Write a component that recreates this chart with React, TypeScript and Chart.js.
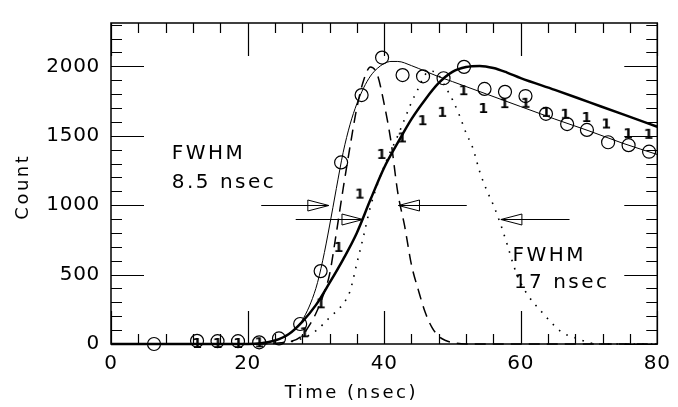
import { useEffect, useRef } from 'react';
import { Chart, registerables } from 'chart.js';
Chart.register(...registerables);

// Measured data (open circles)
const circleX = [6.3, 12.6, 15.6, 18.6, 21.7, 24.6, 27.7, 30.7, 33.7, 36.7, 39.7, 42.7, 45.7, 48.7, 51.7, 54.7, 57.7, 60.7, 63.7, 66.8, 69.7, 72.8, 75.8, 78.8];
const circleY = [0, 23, 20, 20, 12, 40, 144, 525, 1308, 1793, 2063, 1937, 1928, 1914, 1996, 1837, 1816, 1786, 1658, 1584, 1542, 1453, 1432, 1385];

// Measured data ("1" markers)
const onesX = [12.6, 15.6, 18.6, 21.7, 28.3, 30.7, 33.3, 36.4, 39.6, 42.6, 45.6, 48.5, 51.6, 54.5, 57.6, 60.7, 63.7, 66.5, 69.6, 72.5, 75.7, 78.7];
const onesY = [0, 0, 0, 5, 77, 286, 692, 1076, 1362, 1481, 1605, 1665, 1821, 1693, 1728, 1730, 1665, 1651, 1628, 1581, 1511, 1507];

// Thin solid fit
const thinX = [0, 10, 20, 22, 24, 26, 28, 30, 31, 32, 33, 34, 35, 36, 37, 38, 39, 40, 41, 42, 44, 46, 48, 50, 55, 60, 65, 70, 75, 80];
const thinY = [0, 0, 0, 5, 25, 70, 170, 400, 600, 850, 1120, 1380, 1580, 1730, 1845, 1930, 1985, 2020, 2035, 2035, 2005, 1965, 1925, 1890, 1800, 1710, 1620, 1535, 1445, 1365];

// Thick solid fit
const thickX = [0, 10, 20, 22, 24, 26, 28, 30, 32, 34, 36, 38, 40, 42, 44, 46, 48, 50, 52, 54, 56, 58, 60, 65, 70, 75, 80];
const thickY = [0, 0, 0, 5, 25, 70, 160, 280, 440, 610, 800, 1040, 1270, 1450, 1620, 1760, 1880, 1960, 1995, 2003, 1988, 1955, 1915, 1830, 1742, 1654, 1565];

// Dashed pulse (FWHM 8.5 nsec)
const dashX = [0, 20, 26, 28, 29, 30, 31, 32, 33, 34, 35, 36, 37, 38, 39, 40, 41, 42, 43, 44, 45, 46, 47, 48, 49, 50, 52, 80];
const dashY = [0, 0, 15, 60, 130, 220, 340, 500, 800, 1120, 1420, 1700, 1900, 1995, 1940, 1730, 1460, 1090, 850, 570, 390, 230, 120, 55, 25, 10, 0, 0];

// Dotted pulse (FWHM 17 nsec)
const dotX = [0, 20, 26, 28, 30, 32, 34, 35, 36, 37, 38, 40, 42, 43, 44, 45, 46, 47, 48, 49, 50, 51, 52, 53, 54, 55, 56, 57, 58, 59, 60, 61, 62, 63, 64, 66, 68, 70, 72, 80];
const dotY = [0, 0, 15, 40, 95, 190, 290, 380, 580, 780, 990, 1280, 1500, 1620, 1740, 1840, 1940, 1965, 1935, 1850, 1760, 1650, 1520, 1410, 1240, 1110, 1000, 870, 720, 560, 440, 355, 290, 235, 180, 85, 45, 10, 0, 0];

// Axis settings / tick labels
const xMin = 0, xMax = 80, xMajor = 20, xMinor = 4;
const yMin = 0, yMax = 2312, yMajor = 500, yMinor = 100;
const xTicks = [0, 20, 40, 60, 80];
const yTicks = [0, 500, 1000, 1500, 2000];
const xTitle = 'Time (nsec)';
const yTitle = 'Count';

// FWHM arrows: [from x, tip x, y]
const arrowFrom = [22.0, 52.1, 27.05, 67.15];
const arrowTip = [31.9, 42.1, 36.9, 57.1];
const arrowY = [1000, 1000, 901, 901];

// Annotations
const noteText = ['FWHM', '8.5 nsec', 'FWHM', '17 nsec'];
const noteX = [8.9, 8.9, 58.8, 59.0];
const noteY = [1332, 1127, 599, 400];

const FONT = '"DejaVu Sans", sans-serif';

const pts = (xs: number[], ys: number[]) => xs.map((x, i) => ({ x, y: ys[i] }));

export default function App() {
  const ref = useRef<HTMLCanvasElement>(null);
  useEffect(() => {
    const one = document.createElement('canvas');
    one.width = 10;
    one.height = 14;
    const oc = one.getContext('2d')!;
    oc.fillStyle = '#000';
    oc.font = 'bold 14px ' + FONT;
    oc.textAlign = 'center';
    oc.textBaseline = 'middle';
    oc.fillText('1', 5, 7.5);

    const overlay = {
      id: 'overlay',
      beforeDraw(chart: any) {
        (chart.ctx as any).letterSpacing = '0.7px';
      },
      afterDraw(chart: any) {
        const ctx = chart.ctx as CanvasRenderingContext2D;
        const xs = chart.scales.x;
        const ys = chart.scales.y;
        const { left, right, top, bottom } = chart.chartArea;
        ctx.save();
        ctx.strokeStyle = '#000';
        ctx.fillStyle = '#000';
        ctx.lineWidth = 1.5;
        ctx.strokeRect(left, top, right - left, bottom - top);
        ctx.lineWidth = 1.2;
        ctx.beginPath();
        for (let v = xMin; v <= xMax; v += xMinor) {
          const p = Math.round(xs.getPixelForValue(v)) + 0.5;
          const len = v % xMajor === 0 ? 33 : 10;
          ctx.moveTo(p, bottom); ctx.lineTo(p, bottom - len);
          ctx.moveTo(p, top); ctx.lineTo(p, top + len);
        }
        for (let v = yMin; v <= yMax; v += yMinor) {
          const p = Math.round(ys.getPixelForValue(v)) + 0.5;
          const len = v % yMajor === 0 ? 33 : 11;
          ctx.moveTo(left, p); ctx.lineTo(left + len, p);
          ctx.moveTo(right, p); ctx.lineTo(right - len, p);
        }
        ctx.stroke();

        // arrows
        ctx.lineWidth = 1;
        for (let i = 0; i < arrowFrom.length; i++) {
          const x1 = xs.getPixelForValue(arrowFrom[i]);
          const x2 = xs.getPixelForValue(arrowTip[i]);
          const y = Math.round(ys.getPixelForValue(arrowY[i])) + 0.5;
          const dir = x2 > x1 ? 1 : -1;
          const base = x2 - dir * 21;
          ctx.beginPath();
          ctx.moveTo(x1, y); ctx.lineTo(x2, y);
          ctx.moveTo(x2, y); ctx.lineTo(base, y - 5.5); ctx.lineTo(base, y + 5.5); ctx.closePath();
          ctx.stroke();
        }

        // notes
        (ctx as any).letterSpacing = '2.5px';
        ctx.font = '20px ' + FONT;
        ctx.textAlign = 'left';
        ctx.textBaseline = 'alphabetic';
        for (let i = 0; i < noteText.length; i++) {
          ctx.fillText(noteText[i], xs.getPixelForValue(noteX[i]), ys.getPixelForValue(noteY[i]));
        }

        // axis titles
        ctx.font = '18px ' + FONT;
        ctx.textAlign = 'center';
        ctx.fillText(xTitle, left + (right - left) * 0.44, 398);
        ctx.translate(28, top + (bottom - top) * 0.51);
        ctx.rotate(-Math.PI / 2);
        ctx.fillText(yTitle, 0, 0);
        ctx.restore();
        (ctx as any).letterSpacing = '0px';
      },
    };

    const lineDs = (xs: number[], ys: number[], width: number, dash: number[]) => ({
      type: 'line' as const,
      data: pts(xs, ys),
      borderColor: '#000',
      borderWidth: width,
      borderDash: dash,
      pointRadius: 0,
      fill: false,
      cubicInterpolationMode: 'monotone' as const,
      clip: false as any,
    });

    const chart = new Chart(ref.current!, {
      type: 'line',
      data: {
        datasets: [
          {
            type: 'line',
            data: pts(circleX, circleY),
            showLine: false,
            pointStyle: 'circle',
            pointRadius: 6.5,
            borderWidth: 1.2,
            borderColor: '#000',
            backgroundColor: 'rgba(0,0,0,0)',
            clip: false as any,
          },
          {
            type: 'line',
            data: pts(onesX, onesY),
            showLine: false,
            pointStyle: one as any,
            pointRadius: 5,
            borderColor: '#000',
            backgroundColor: '#000',
            clip: false as any,
          },
          lineDs(thinX, thinY, 1, []),
          lineDs(thickX, thickY, 2.5, []),
          lineDs(dashX, dashY, 1.5, [11, 7]),
          lineDs(dotX, dotY, 1.6, [1.6, 7]),
        ] as any,
      },
      options: {
        responsive: false,
        animation: false,
        devicePixelRatio: 1,
        layout: { padding: { top: 13, right: 13, left: 0, bottom: 0 } },
        plugins: { legend: { display: false }, tooltip: { enabled: false } },
        events: [],
        scales: {
          x: {
            type: 'linear',
            min: xMin,
            max: xMax,
            grid: { display: false, drawTicks: false },
            border: { display: false },
            ticks: { padding: 8, color: '#000', font: { family: FONT, size: 20 }, callback: (v: any) => String(v) },
            afterBuildTicks: (s: any) => { s.ticks = xTicks.map((v) => ({ value: v })); },
            afterFit: (s: any) => { s.height = 63; },
          },
          y: {
            type: 'linear',
            min: yMin,
            max: yMax,
            grid: { display: false, drawTicks: false },
            border: { display: false },
            ticks: { padding: 11, color: '#000', font: { family: FONT, size: 20 }, callback: (v: any) => String(v) },
            afterBuildTicks: (s: any) => { s.ticks = yTicks.map((v) => ({ value: v })); },
            afterFit: (s: any) => { s.width = 111; },
          },
        },
      },
      plugins: [overlay],
    });
    return () => chart.destroy();
  }, []);
  return (
    <div style={{ position: 'fixed', left: 0, top: 0, width: 678, height: 407, background: '#fff' }}>
      <canvas ref={ref} width={678} height={407} style={{ display: 'block', width: 678, height: 407 }} />
    </div>
  );
}
